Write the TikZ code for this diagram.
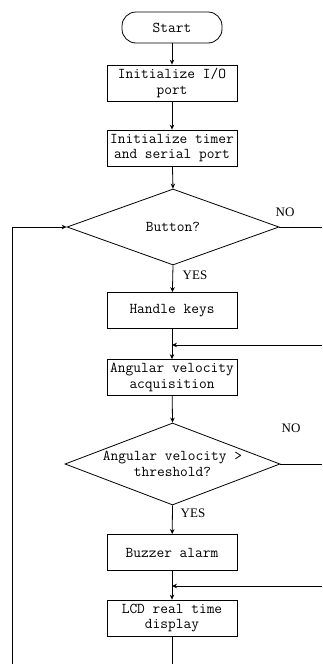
\documentclass[tikz,border=0pt]{standalone}
\usepackage{fontspec}
\newfontfamily\lblfont{Liberation Serif}
\usetikzlibrary{shapes.geometric,arrows.meta}
\begin{document}
\begin{tikzpicture}[x=1pt,y=-1pt,
  every node/.style={inner sep=0pt},
  txt/.style={font=\ttfamily\fontsize{15}{15.5}\selectfont, align=center},
  proc/.style={txt, draw, line width=0.8pt, minimum width=130pt, minimum height=36pt},
  term/.style={txt, draw, line width=0.8pt, minimum width=100pt, minimum height=31pt, rounded corners=14pt},
  dia/.style={draw, line width=0.8pt, diamond, minimum width=#1, minimum height=76pt},
  lbl/.style={font=\lblfont\fontsize{13}{15}\selectfont},
  flow/.style={line width=0.8pt, -{Stealth[length=5pt,width=4.5pt]}},
  plain/.style={line width=0.8pt}
]
\useasboundingbox (0,0) rectangle (322,664);

\node[term] (start) at (172,27.5) {Start};
\node[proc] (io) at (172,83) {Initialize I/O\\port};
\node[proc] (timer) at (172,148) {Initialize timer\\and serial port};
\node[dia=212pt] (btn) at (173,227) {};
\node[txt] (btntxt) at (btn) {Button?};
\node[proc] (keys) at (172,310.5) {Handle keys};
\node[proc] (acq) at (172,377.5) {Angular velocity\\acquisition};
\node[dia=215pt, minimum height=82pt] (thr) at (172.5,464) {};
\node[txt] (thrtxt) at (thr) {Angular velocity >\\threshold?};
\node[proc] (buz) at (172,552.5) {Buzzer alarm};
\node[proc] (lcd) at (172,618) {LCD real time\\display};

\node[lbl] (no1) at (285,212) {NO};
\node[lbl] (yes1) at (195,275) {YES};
\node[lbl] (no2) at (291,428) {NO};
\node[lbl] (yes2) at (193,513) {YES};

\coordinate (r0) at (322,227);
\coordinate (j1) at (172,345);
\coordinate (r1) at (322,345);
\coordinate (r2) at (322,464);
\coordinate (j2) at (172,586);
\coordinate (r3) at (322,586);
\coordinate (bot) at (172,664);
\coordinate (lb) at (12,664);
\coordinate (lt) at (12,227);

\draw[flow] (start) -- (io);
\draw[flow] (io) -- (timer);
\draw[flow] (timer) -- (btn.north);
\draw[flow] (btn.south) -- (keys);
\draw[plain] (btn.east) -- (r0);
\draw[flow] (keys) -- (acq);
\draw[flow] (r1) -- (j1);
\draw[flow] (acq) -- (thr.north);
\draw[plain] (thr.east) -- (r2);
\draw[flow] (thr.south) -- (buz);
\draw[flow] (buz) -- (lcd);
\draw[flow] (r3) -- (j2);
\draw[plain] (lcd) -- (bot);
\draw[flow] (lb) -- (lt) -- (btn.west);
\end{tikzpicture}
\end{document}
